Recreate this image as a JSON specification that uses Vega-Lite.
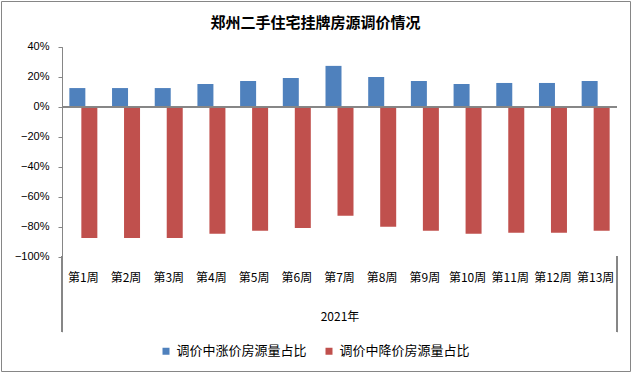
{
  "$schema": "https://vega.github.io/schema/vega-lite/v6.json",
  "width": 629,
  "height": 370,
  "autosize": {"type": "none"},
  "padding": {"left": 1, "top": 1, "right": 3, "bottom": 2},
  "background": "white",
  "config": {
    "view": {"stroke": "#868686", "strokeWidth": 1},
    "font": "Liberation Sans, Noto Sans CJK SC"
  },
  "title": {
    "text": "郑州二手住宅挂牌房源调价情况",
    "font": "Noto Sans CJK SC",
    "fontSize": 15,
    "fontWeight": "bold",
    "color": "black",
    "anchor": "middle",
    "frame": "group",
    "baseline": "middle",
    "offset": -37
  },
  "data": {
    "values": [
      {"week": "第1周", "series": "调价中涨价房源量占比", "value": 0.124},
      {"week": "第2周", "series": "调价中涨价房源量占比", "value": 0.124},
      {"week": "第3周", "series": "调价中涨价房源量占比", "value": 0.124},
      {"week": "第4周", "series": "调价中涨价房源量占比", "value": 0.151},
      {"week": "第5周", "series": "调价中涨价房源量占比", "value": 0.171},
      {"week": "第6周", "series": "调价中涨价房源量占比", "value": 0.191},
      {"week": "第7周", "series": "调价中涨价房源量占比", "value": 0.272},
      {"week": "第8周", "series": "调价中涨价房源量占比", "value": 0.198},
      {"week": "第9周", "series": "调价中涨价房源量占比", "value": 0.171},
      {"week": "第10周", "series": "调价中涨价房源量占比", "value": 0.151},
      {"week": "第11周", "series": "调价中涨价房源量占比", "value": 0.158},
      {"week": "第12周", "series": "调价中涨价房源量占比", "value": 0.158},
      {"week": "第13周", "series": "调价中涨价房源量占比", "value": 0.171},
      {"week": "第1周", "series": "调价中降价房源量占比", "value": -0.876},
      {"week": "第2周", "series": "调价中降价房源量占比", "value": -0.876},
      {"week": "第3周", "series": "调价中降价房源量占比", "value": -0.876},
      {"week": "第4周", "series": "调价中降价房源量占比", "value": -0.849},
      {"week": "第5周", "series": "调价中降价房源量占比", "value": -0.829},
      {"week": "第6周", "series": "调价中降价房源量占比", "value": -0.809},
      {"week": "第7周", "series": "调价中降价房源量占比", "value": -0.728},
      {"week": "第8周", "series": "调价中降价房源量占比", "value": -0.802},
      {"week": "第9周", "series": "调价中降价房源量占比", "value": -0.829},
      {"week": "第10周", "series": "调价中降价房源量占比", "value": -0.849},
      {"week": "第11周", "series": "调价中降价房源量占比", "value": -0.842},
      {"week": "第12周", "series": "调价中降价房源量占比", "value": -0.842},
      {"week": "第13周", "series": "调价中降价房源量占比", "value": -0.829}
    ]
  },
  "encoding": {
    "x": {
      "field": "week",
      "type": "ordinal",
      "sort": ["第1周","第2周","第3周","第4周","第5周","第6周","第7周","第8周","第9周","第10周","第11周","第12周","第13周"],
      "scale": {"range": [61, 616], "paddingInner": 0, "paddingOuter": 0},
      "axis": {
        "orient": "bottom",
        "offset": -114.5,
        "domain": false,
        "ticks": false,
        "labelAngle": 0,
        "labelPadding": 20.5,
        "labelBaseline": "middle",
        "labelFontSize": 12,
        "labelColor": "black",
        "labelFont": "Noto Sans CJK SC",
        "title": "2021年",
        "titleFont": "Noto Sans CJK SC",
        "titleFontSize": 12,
        "titleFontWeight": "normal",
        "titleColor": "black",
        "titleY": 59.5,
        "titleBaseline": "middle"
      }
    }
  },
  "layer": [
    {
      "transform": [{"filter": "datum.series === '调价中涨价房源量占比'"}],
      "mark": {"type": "bar", "width": 16, "xOffset": -6},
      "encoding": {
        "y": {
          "field": "value",
          "type": "quantitative",
          "scale": {"domain": [-1, 0.4], "range": [255.5, 45.7], "nice": false, "zero": false},
          "axis": {
            "orient": "left",
            "offset": -61,
            "values": [-1, -0.8, -0.6, -0.4, -0.2, 0, 0.2, 0.4],
            "format": ".0%",
            "grid": false,
            "title": null,
            "domainColor": "#868686",
            "tickColor": "#868686",
            "tickSize": 4,
            "labelPadding": 9,
            "labelFontSize": 11,
            "labelColor": "black"
          }
        },
        "color": {
          "field": "series",
          "type": "nominal",
          "scale": {"domain": ["调价中涨价房源量占比", "调价中降价房源量占比"], "range": ["#4F81BD", "#C0504D"]},
          "legend": {
            "orient": "none",
            "legendX": 158.5,
            "legendY": 343.5,
            "direction": "horizontal",
            "title": null,
            "symbolType": "square",
            "symbolSize": 49,
            "symbolStrokeWidth": 0,
            "labelFont": "Noto Sans CJK SC",
            "labelFontSize": 13,
            "labelColor": "black",
            "labelOffset": 4,
            "labelLimit": 0,
            "columnPadding": 15,
            "padding": 0
          }
        }
      }
    },
    {
      "transform": [{"filter": "datum.series === '调价中降价房源量占比'"}],
      "mark": {"type": "bar", "width": 16, "xOffset": 6},
      "encoding": {
        "y": {"field": "value", "type": "quantitative"},
        "color": {"field": "series", "type": "nominal"}
      }
    },
    {
      "mark": {"type": "rule", "color": "#868686", "strokeWidth": 1},
      "encoding": {
        "x": {"datum": "第1周", "bandPosition": 0},
        "x2": {"datum": "第13周", "bandPosition": 1},
        "y": {"datum": 0}
      }
    },
    {
      "mark": {"type": "rule", "color": "#868686", "strokeWidth": 1},
      "encoding": {
        "x": {"datum": "第1周", "bandPosition": 0},
        "y": {"datum": -1},
        "y2": {"datum": -1.504}
      }
    },
    {
      "mark": {"type": "rule", "color": "#868686", "strokeWidth": 1},
      "encoding": {
        "x": {"datum": "第13周", "bandPosition": 1},
        "y": {"datum": -1},
        "y2": {"datum": -1.504}
      }
    }
  ]
}
